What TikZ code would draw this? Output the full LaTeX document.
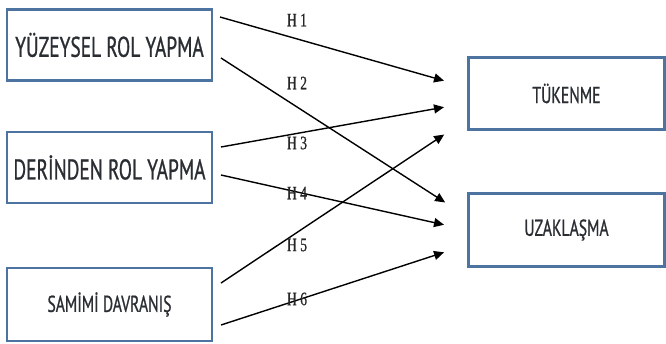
\documentclass[tikz,border=0pt]{standalone}
\usepackage{fontspec}
\newfontfamily\boxfont[FakeStretch=0.68,FakeBold=0.8]{PT Sans}
\newfontfamily\labfont[FakeStretch=0.72,FakeBold=0.6]{Liberation Serif}
\usetikzlibrary{arrows.meta}
\begin{document}
\begin{tikzpicture}[x=1pt,y=-1pt,
  var/.style={draw=boxblue,line width=2.6pt,fill=white,rectangle,inner sep=0pt,text=boxtext},
  link/.style={line width=1.4pt,-{Triangle[length=10pt,width=9pt]},shorten >=1pt},
  hl/.style={font=\labfont\fontsize{19}{19}\selectfont,text=black!85}]
\definecolor{boxblue}{HTML}{4D73A0}
\definecolor{boxtext}{HTML}{2A2E33}
\useasboundingbox (0,0) rectangle (666,343);
% boxes
\node[var,minimum width=205pt,minimum height=71pt] (yuz) at (109.5,45) {\boxfont\fontsize{28.5}{28.5}\selectfont YÜZEYSEL ROL YAPMA};
\node[var,minimum width=205pt,minimum height=71pt] (der) at (109.5,167.5) {\boxfont\fontsize{28.5}{28.5}\selectfont DERİNDEN ROL YAPMA};
\node[var,minimum width=205pt,minimum height=73pt] (sam) at (109.5,304.5) {\boxfont\fontsize{23}{23}\selectfont SAMİMİ DAVRANIŞ};
\node[var,minimum width=196pt,minimum height=72pt] (tuk) at (566.5,93.5) {\boxfont\fontsize{23}{23}\selectfont TÜKENME};
\node[var,minimum width=196pt,minimum height=73pt] (uza) at (566.5,230) {\boxfont\fontsize{23}{23}\selectfont UZAKLAŞMA};
% connector end points
\coordinate (s1) at (220,17);
\coordinate (s2) at (221,58);
\coordinate (s3) at (221,147);
\coordinate (s4) at (221,175);
\coordinate (s5) at (221,283);
\coordinate (s6) at (221,325);
\coordinate (t1) at (445,81);
\coordinate (t2) at (446,203);
\coordinate (t3) at (445,107);
\coordinate (t4) at (445,225);
\coordinate (t5) at (445,134);
\coordinate (t6) at (445,252);
\draw[link] (s1) -- (t1);
\draw[link] (s2) -- (t2);
\draw[link] (s3) -- (t3);
\draw[link] (s4) -- (t4);
\draw[link] (s5) -- (t5);
\draw[link] (s6) -- (t6);
% labels
\node[hl] (h1) at (297,20) {H 1};
\node[hl] (h2) at (297,83) {H 2};
\node[hl] (h3) at (297,143) {H 3};
\node[hl] (h4) at (297,193) {H 4};
\node[hl] (h5) at (297,245) {H 5};
\node[hl] (h6) at (297,299) {H 6};
\end{tikzpicture}
\end{document}
